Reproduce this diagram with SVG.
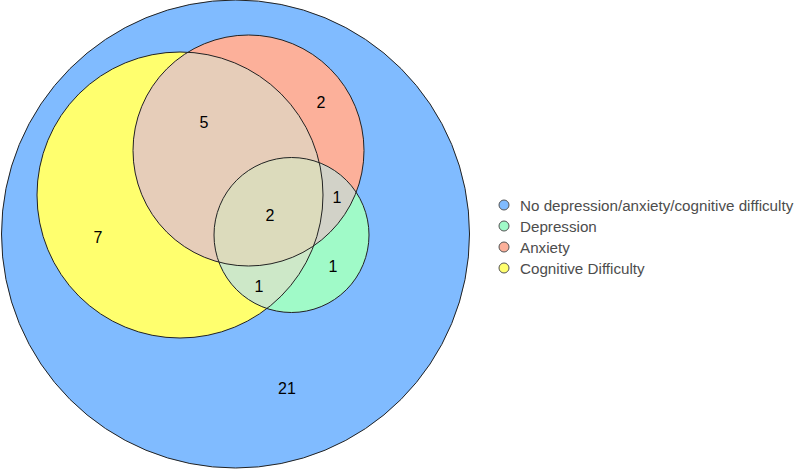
<svg xmlns="http://www.w3.org/2000/svg" width="800" height="470" viewBox="0 0 800 470">
<style>
.ol{fill:none;stroke:#222;stroke-width:1}
.num{font-family:"Liberation Sans",Arial,sans-serif;font-size:16px;fill:#000;text-anchor:middle}
.lg{font-family:"Liberation Sans",Arial,sans-serif;font-size:15.2px;fill:#4d4d4d}
.dot{stroke:#555;stroke-width:1}
</style>
<defs>
<clipPath id="cY"><circle cx="180" cy="195" r="143"/></clipPath>
<clipPath id="cO"><circle cx="248.5" cy="150.5" r="115.5"/></clipPath>
<clipPath id="cG"><circle cx="291.5" cy="235" r="77.5"/></clipPath>
</defs>
<rect width="800" height="470" fill="#fff"/>
<g id="none-set"><circle cx="235.5" cy="234" r="234" fill="#80BBFF"/></g>
<g id="cognitive"><circle cx="180" cy="195" r="143" fill="#FFFF6E"/></g>
<g id="anxiety"><circle cx="248.5" cy="150.5" r="115.5" fill="#FCB09A"/></g>
<g id="depression"><circle cx="291.5" cy="235" r="77.5" fill="#A0FAC8"/></g>
<g id="regions">
<circle cx="248.5" cy="150.5" r="115.5" fill="#E6CDB9" clip-path="url(#cY)"/>
<circle cx="291.5" cy="235" r="77.5" fill="#D2D2C8" clip-path="url(#cO)"/>
<circle cx="291.5" cy="235" r="77.5" fill="#CDE8C8" clip-path="url(#cY)"/>
<g clip-path="url(#cY)"><circle cx="291.5" cy="235" r="77.5" fill="#DCDBBC" clip-path="url(#cO)"/></g>
</g>
<g id="outlines">
<circle class="ol" cx="235.5" cy="234" r="234"/>
<circle class="ol" cx="180" cy="195" r="143"/>
<circle class="ol" cx="248.5" cy="150.5" r="115.5"/>
<circle class="ol" cx="291.5" cy="235" r="77.5"/>
</g>
<g id="labels">
<text class="num" x="204" y="128">5</text>
<text class="num" x="321" y="108">2</text>
<text class="num" x="98" y="243">7</text>
<text class="num" x="270" y="221">2</text>
<text class="num" x="337" y="203">1</text>
<text class="num" x="333" y="272">1</text>
<text class="num" x="259" y="292">1</text>
<text class="num" x="287" y="394">21</text>
</g>
<g id="legend">
<circle class="dot" cx="504" cy="205" r="5" fill="#80BBFF"/>
<circle class="dot" cx="504" cy="226" r="5" fill="#A0FAC8"/>
<circle class="dot" cx="504" cy="247" r="5" fill="#FCB09A"/>
<circle class="dot" cx="504" cy="268" r="5" fill="#FFFF6E"/>
<text class="lg" x="520" y="210.5">No depression/anxiety/cognitive difficulty</text>
<text class="lg" x="520" y="231.5">Depression</text>
<text class="lg" x="520" y="252.5">Anxiety</text>
<text class="lg" x="520" y="273.5">Cognitive Difficulty</text>
</g>
</svg>
